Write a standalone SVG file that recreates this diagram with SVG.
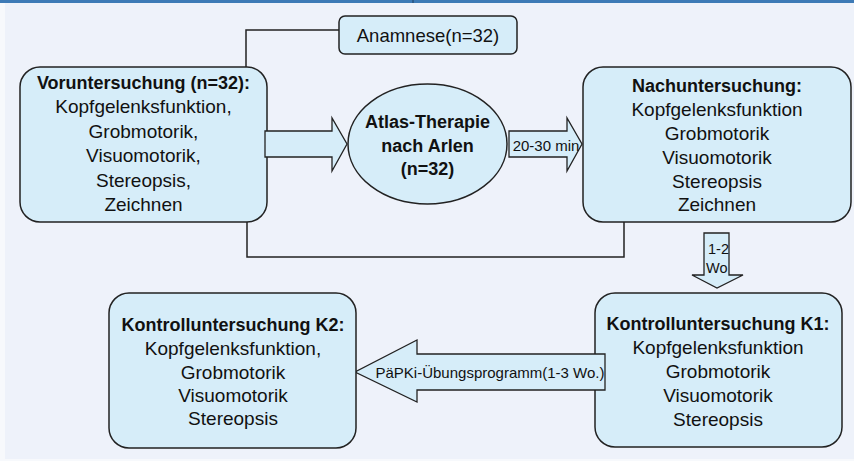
<svg xmlns="http://www.w3.org/2000/svg" width="854" height="461" viewBox="0 0 854 461">
<style>
.bg{fill:#eef2fa}
.box{fill:#d6edf9;stroke:#222;stroke-width:1.5}
.arr{fill:#d6edf9;stroke:#222;stroke-width:1.3;stroke-linejoin:miter}
.line{fill:none;stroke:#222;stroke-width:1.5}
text{font-family:"Liberation Sans",Arial,sans-serif;fill:#111;text-anchor:middle}
.t{font-size:18px;font-weight:bold}
.b{font-size:19px}
.s{font-size:15px}
</style>
<rect width="854" height="461" fill="#f7f9fc"/>
<rect x="5" y="3" width="849" height="456" class="bg"/>
<rect x="0" y="0" width="854" height="3" fill="#3d7ab6"/>
<line x1="413" y1="0" x2="413" y2="3" stroke="#1d3f63" stroke-width="1"/>

<g id="connectors">
<polyline class="line" points="339,30 246,30 246,67"/>
<polyline class="line" points="247,222 247,257 624,257 624,222"/>
</g>

<g id="anamnese">
<rect class="box" x="339" y="16" width="178" height="38" rx="6"/>
<text x="428" y="41.5" style="font-size:18.5px">Anamnese(n=32)</text>
</g>

<g id="voruntersuchung">
<rect class="box" x="20" y="67" width="247" height="155" rx="20"/>
<text class="t" x="143.5" y="88.5">Voruntersuchung (n=32):</text>
<text class="b" x="143.5" y="113">Kopfgelenksfunktion,</text>
<text class="b" x="143.5" y="137.5">Grobmotorik,</text>
<text class="b" x="143.5" y="162">Visuomotorik,</text>
<text class="b" x="143.5" y="186.5">Stereopsis,</text>
<text class="b" x="143.5" y="211">Zeichnen</text>
</g>

<g id="arrow1">
<polygon class="arr" points="265,131 332,131 332,118 347,144 332,171 332,157 265,157"/>
</g>

<g id="atlas">
<ellipse class="box" cx="427.5" cy="144" rx="79.5" ry="60"/>
<text class="t" x="427.5" y="127.5">Atlas-Therapie</text>
<text class="t" x="427.5" y="151.5">nach Arlen</text>
<text class="t" x="427.5" y="174.5">(n=32)</text>
</g>

<g id="arrow2">
<polygon class="arr" points="509,131 567,131 567,118 582,144 567,171 567,157 509,157"/>
<text class="s" x="546" y="151">20-30 min</text>
</g>

<g id="nachuntersuchung">
<rect class="box" x="583" y="67" width="268" height="155" rx="20"/>
<text class="t" x="717" y="91.5">Nachuntersuchung:</text>
<text class="b" x="717" y="115.5">Kopfgelenksfunktion</text>
<text class="b" x="717" y="139.5">Grobmotorik</text>
<text class="b" x="717" y="163.5">Visuomotorik</text>
<text class="b" x="717" y="187.5">Stereopsis</text>
<text class="b" x="717" y="210.5">Zeichnen</text>
</g>

<g id="arrow3">
<polygon class="arr" points="704,233 729,233 729,275 743,275 717,288 692,275 704,275"/>
<text x="708" y="254" style="font-size:14.5px;text-anchor:start">1-2</text>
<text x="706" y="273" style="font-size:14.5px;text-anchor:start">Wo</text>
</g>

<g id="k1">
<rect class="box" x="595" y="293" width="247" height="154" rx="20"/>
<text class="t" x="718" y="329.5">Kontrolluntersuchung K1:</text>
<text class="b" x="718" y="353.5">Kopfgelenksfunktion</text>
<text class="b" x="718" y="377.5">Grobmotorik</text>
<text class="b" x="718" y="401.5">Visuomotorik</text>
<text class="b" x="718" y="425.5">Stereopsis</text>
</g>

<g id="arrow4">
<polygon class="arr" points="605,354 417,354 417,340 355,372 417,402 417,390 605,390"/>
<text class="s" x="490" y="377.5">PäPKi-Übungsprogramm(1-3 Wo.)</text>
</g>

<g id="k2">
<rect class="box" x="109" y="293" width="247" height="155" rx="20"/>
<text class="t" x="233" y="330.5">Kontrolluntersuchung K2:</text>
<text class="b" x="233" y="354.5">Kopfgelenksfunktion,</text>
<text class="b" x="233" y="378.5">Grobmotorik</text>
<text class="b" x="233" y="401.5">Visuomotorik</text>
<text class="b" x="233" y="424.5">Stereopsis</text>
</g>
</svg>
